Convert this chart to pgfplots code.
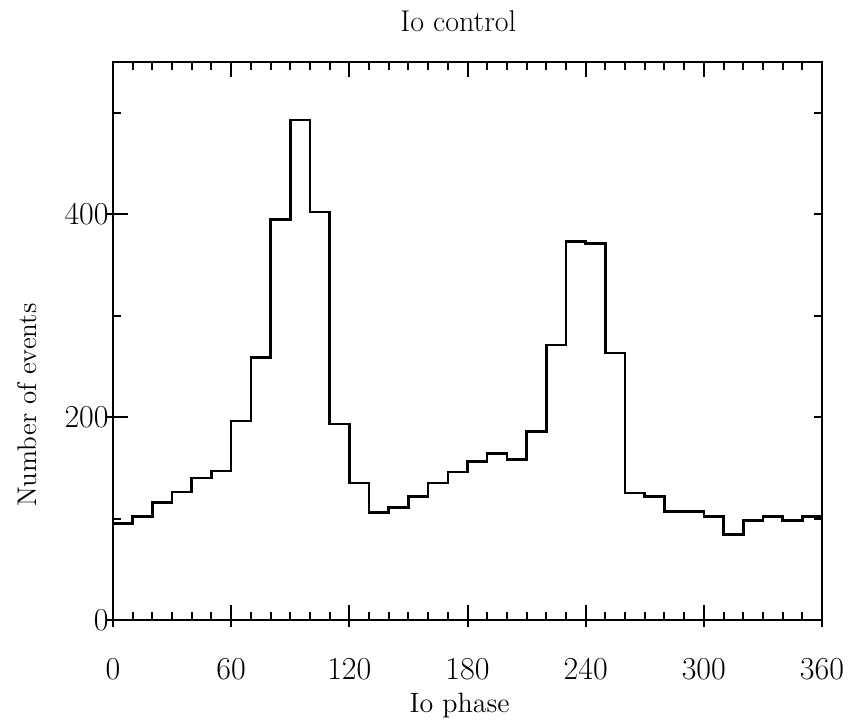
\documentclass[border=0pt]{standalone}
\usepackage{fontspec}
\usepackage{pgfplots}
\pgfplotsset{compat=1.18}
\begin{document}
\begin{tikzpicture}
\pgfplotsset{common/.style={scale only axis, width=354.5pt, height=279pt,
  xmin=0, xmax=360, ymin=0, ymax=550}}
\begin{axis}[common,
  axis line style={line width=1pt, black},
  xtick={0,60,...,360}, minor x tick num=5,
  ytick={0,200,400}, minor ytick={100,300,500},
  ytick pos=left,
  tick align=inside,
  major tick length=7.5pt, minor tick length=4pt,
  every tick/.style={line width=1pt, black},
  /pgf/number format/assume math mode=true,
  xticklabel style={font=\fontsize{16}{19}\selectfont, anchor=base, yshift=-30pt},
  yticklabel style={font=\fontsize{16}{19}\selectfont, anchor=east, inner sep=0pt, xshift=-2pt},
  title={Io control},
  title style={font=\fontsize{15}{18}\selectfont, at={(axis description cs:0.487,1)}, anchor=base, yshift=9pt},
  xlabel={Io phase},
  xlabel style={font=\fontsize{14}{17}\selectfont, at={(axis description cs:0.489,0)}, anchor=base, yshift=-46.5pt},
  ylabel={Number of events},
  ylabel style={font=\fontsize{13.5}{16}\selectfont, at={(axis description cs:-0.121,0.385)}, anchor=center},
]
\addplot[const plot, line width=1.3pt, black] coordinates {
(0,95) (10,102) (20,116) (30,126) (40,140) (50,147) (60,196) (70,259)
(80,395) (90,493) (100,402) (110,193) (120,135) (130,106) (140,111) (150,122)
(160,135) (170,146) (180,156) (190,164) (200,158) (210,186) (220,271) (230,373)
(240,371) (250,263) (260,125) (270,122) (280,107) (290,107) (300,102) (310,84)
(320,98) (330,102) (340,98) (350,102) (360,102)
};
\end{axis}
% outward part of the major ticks on the bottom and left
\begin{axis}[common,
  axis x line*=bottom, axis y line*=left,
  axis line style={draw=none},
  xtick={0,60,...,360}, ytick={0,200,400},
  xticklabels={}, yticklabels={},
  minor tick num=0,
  tick align=outside, major tick length=3.5pt,
  every tick/.style={line width=1pt, black},
]
\end{axis}
% right-hand ticks
\begin{axis}[common,
  axis y line*=right, axis x line=none,
  axis line style={draw=none},
  ytick={100,200,...,500}, yticklabels={},
  minor tick num=0,
  tick align=inside, major tick length=4pt,
  every tick/.style={line width=1pt, black},
]
\end{axis}
\pgfresetboundingbox
\path[use as bounding box] ([xshift=-56.5pt,yshift=-51.5pt]current axis.south west) rectangle ([xshift=14pt,yshift=31pt]current axis.north east);
\end{tikzpicture}
\end{document}
